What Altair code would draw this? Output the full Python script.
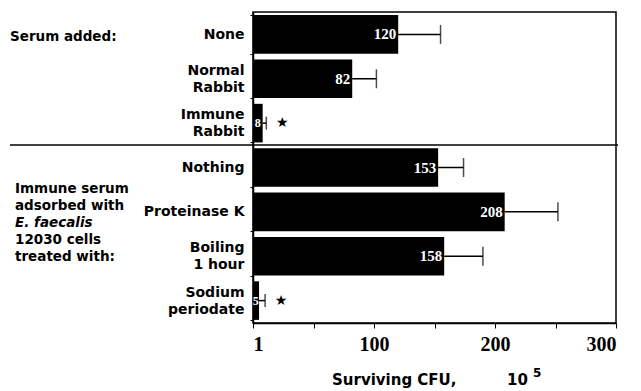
import altair as alt
import pandas as pd

categories = ["None", "Normal\nRabbit", "Immune\nRabbit", "Nothing",
              "Proteinase K", "Boiling\n1 hour", "Sodium\nperiodate"]
values = [120, 82, 8, 153, 208, 158, 5]
upper = [155, 102, 11, 174, 252, 190, 10]
significant = [False, False, True, False, False, False, True]
x_ticks = [0, 50, 100, 150, 200, 250, 300]

group1 = ["Serum added:"]
group2 = ["Immune serum", "adsorbed with", "E. faecalis", "12030 cells", "treated with:"]
group2_italic = [False, False, True, False, False]

df = pd.DataFrame({"cat": categories, "value": values, "upper": upper,
                   "sig": significant})

W, H = 363, 311
SANS = "DejaVu Sans"
SERIF = "Liberation Serif"

y_enc = alt.Y("cat:N", sort=categories,
              scale=alt.Scale(paddingInner=0.13, paddingOuter=0.07),
              axis=alt.Axis(title=None, labelExpr="split(datum.label, '\\n')",
                            labelFont=SANS, labelFontWeight="bold", labelFontSize=14,
                            labelColor="black", labelLineHeight=17, labelPadding=6,
                            labelOffset={"condition": {"test": "indexof(datum.label, '\\n') >= 0",
                                                       "value": -8.5}, "value": 0},
                            tickBand="extent", tickSize=3, tickColor="black",
                            domainColor="black", domainWidth=1.5, labelLimit=300))
x_scale = alt.Scale(domain=[0, 300], nice=False)
x_enc = alt.X("value:Q", scale=x_scale,
              axis=alt.Axis(title=None, values=x_ticks, grid=False,
                            labelExpr="datum.value == 0 ? '1' : (datum.value % 100 == 0 ? datum.label : '')",
                            labelFont=SERIF, labelFontWeight="bold", labelFontSize=20,
                            labelColor="black", labelPadding=6, tickSize=5,
                            tickColor="black", domainColor="black", domainWidth=1.5))

base = alt.Chart(df)

bars = base.mark_bar(color="black").encode(x=x_enc, y=y_enc)
err = base.mark_rule(color="black", strokeWidth=1.5).encode(
    x=alt.X("value:Q", scale=x_scale), x2="upper:Q", y=alt.Y("cat:N", sort=categories))
caps = base.mark_tick(color="black", thickness=1.5).encode(
    x=alt.X("upper:Q", scale=x_scale), y=alt.Y("cat:N", sort=categories),
    size=alt.condition("datum.value < 20", alt.value(13), alt.value(19)))
vals = base.transform_calculate(lx="max(datum.value, 6.5)").mark_text(
    color="white", font=SERIF, fontWeight="bold", align="right", dx=-2,
    baseline="middle").encode(
    x=alt.X("lx:Q", scale=x_scale), y=alt.Y("cat:N", sort=categories),
    text=alt.Text("value:Q"),
    size=alt.condition("datum.value < 20", alt.value(12), alt.value(15)))
stars = base.transform_filter("datum.sig").mark_text(
    text="★", fontSize=14, color="black", dx=16, baseline="middle", font=SANS).encode(
    x=alt.X("upper:Q", scale=x_scale), y=alt.Y("cat:N", sort=categories))

sep = alt.Chart(pd.DataFrame({"a": [0]})).mark_rule(color="black", strokeWidth=1.5).encode(
    x=alt.value(-243), x2=alt.value(W + 2), y=alt.value(133))

ann = [alt.Chart(pd.DataFrame({"t": group1})).mark_text(
    font=SANS, fontWeight="bold", fontSize=13.5, align="left", baseline="middle").encode(
    x=alt.value(-243), y=alt.value(25), text="t:N")]
for i, (line, it) in enumerate(zip(group2, group2_italic)):
    ann.append(alt.Chart(pd.DataFrame({"t": [line]})).mark_text(
        font=SANS, fontWeight="bold", fontSize=13.5, align="left", baseline="middle",
        fontStyle="italic" if it else "normal").encode(
        x=alt.value(-238), y=alt.value(177 + 17 * i), text="t:N"))

title1 = alt.Chart(pd.DataFrame({"t": ["Surviving CFU,"]})).mark_text(
    font=SANS, fontWeight="bold", fontSize=15, align="left", baseline="alphabetic").encode(
    x=alt.value(79), y=alt.value(373), text="t:N")
title2 = alt.Chart(pd.DataFrame({"t": ["10"]})).mark_text(
    font=SANS, fontWeight="bold", fontSize=15, align="left", baseline="alphabetic").encode(
    x=alt.value(254), y=alt.value(373), text="t:N")
title3 = alt.Chart(pd.DataFrame({"t": ["5"]})).mark_text(
    font=SANS, fontWeight="bold", fontSize=12, align="left", baseline="alphabetic").encode(
    x=alt.value(280), y=alt.value(365), text="t:N")

chart = alt.layer(bars, err, caps, vals, stars, sep, *ann, title1, title2, title3).properties(
    width=W, height=H,
    autosize=alt.AutoSizeParams(type="none"),
    padding={"left": 245, "top": 4, "right": 17, "bottom": 67},
).configure_view(stroke="black", strokeWidth=1.5)

chart.save("out.html", embed_options={"renderer": "svg", "actions": False})
